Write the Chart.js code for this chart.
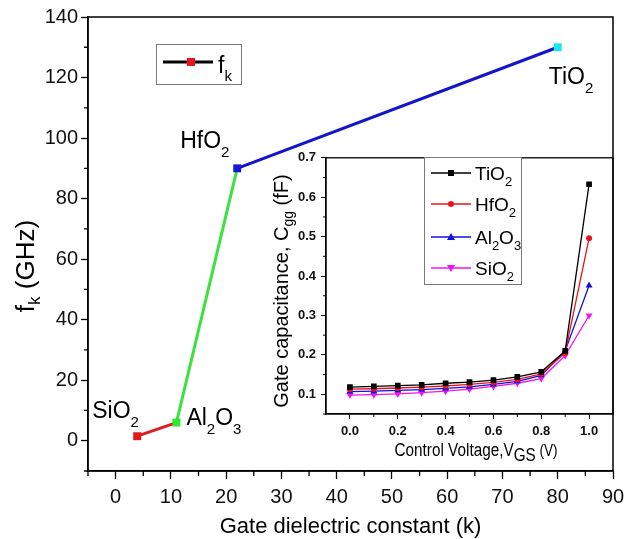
<!DOCTYPE html>
<html><head><meta charset="utf-8">
<script src="https://cdn.jsdelivr.net/npm/chart.js@4"></script>
<style>
html,body{margin:0;padding:0;background:#fff;overflow:hidden}
#wrap{position:relative;width:636px;height:539px}
#main{position:absolute;left:0;top:0}
#inset{position:absolute;left:260px;top:145px}
</style></head><body>
<div id="wrap">
<canvas id="main" width="636" height="539"></canvas>
<canvas id="inset" width="376" height="330"></canvas>
</div>
<script>
// ---------- main chart data ----------
const materials = ['SiO2', 'Al2O3', 'HfO2', 'TiO2'];
const dielectricK = [3.9, 11, 22, 80];
const cutoffFreq = [1.5, 6, 90, 130];
const pointColors = ['#e8151b', '#2fe82f', '#1616d8', '#19e6ef'];
const segmentColors = ['#e01e22', '#3ee03e', '#1414c8'];
const xTickValues = [0, 10, 20, 30, 40, 50, 60, 70, 80, 90];
const xMinorTicks = [-5, 5, 15, 25, 35, 45, 55, 65, 75, 85];
const yTickValues = [0, 20, 40, 60, 80, 100, 120, 140];
const yMinorTicks = [-10, 10, 30, 50, 70, 90, 110, 130];

// ---------- inset data ----------
const vgs = [0, 0.1, 0.2, 0.3, 0.4, 0.5, 0.6, 0.7, 0.8, 0.9, 1.0];
const cggTiO2  = [0.118, 0.120, 0.122, 0.124, 0.128, 0.131, 0.136, 0.144, 0.157, 0.210, 0.633];
const cggHfO2  = [0.113, 0.114, 0.116, 0.118, 0.121, 0.125, 0.130, 0.138, 0.152, 0.205, 0.496];
const cggAl2O3 = [0.107, 0.108, 0.110, 0.112, 0.115, 0.119, 0.125, 0.133, 0.148, 0.210, 0.376];
const cggSiO2  = [0.098, 0.099, 0.101, 0.104, 0.108, 0.113, 0.120, 0.128, 0.140, 0.198, 0.300];
const insetNames = ['TiO2', 'HfO2', 'Al2O3', 'SiO2'];
const insetColors = ['#000000', '#e8141c', '#1010e0', '#f014f0'];
const insetXTicks = [0, 0.2, 0.4, 0.6, 0.8, 1.0];
const insetXMinor = [0.1, 0.3, 0.5, 0.7, 0.9];
const insetYTicks = [0.1, 0.2, 0.3, 0.4, 0.5, 0.6, 0.7];
const insetYMinor = [0.05, 0.15, 0.25, 0.35, 0.45, 0.55, 0.65];

const FONT = '"Liberation Sans", Arial, Helvetica, sans-serif';

function formulaRuns(s) {
  const runs = [];
  for (const ch of s) {
    const sub = /[0-9]/.test(ch);
    if (runs.length && runs[runs.length - 1][1] === sub) runs[runs.length - 1][0] += ch;
    else runs.push([ch, sub]);
  }
  return runs;
}
function runsWidth(ctx, runs, size, subSize) {
  let w = 0;
  for (const [t, sub] of runs) {
    ctx.font = (sub ? subSize : size) + 'px ' + FONT;
    w += ctx.measureText(t).width;
  }
  return w;
}
function drawRuns(ctx, runs, x, y, size, subSize, subDy, align) {
  let cx = x;
  if (align === 'center') cx = x - runsWidth(ctx, runs, size, subSize) / 2;
  ctx.textAlign = 'left';
  ctx.textBaseline = 'alphabetic';
  for (const [t, sub] of runs) {
    ctx.font = (sub ? subSize : size) + 'px ' + FONT;
    ctx.fillText(t, cx, sub ? y + subDy : y);
    cx += ctx.measureText(t).width;
  }
}
function marker(ctx, style, x, y, r, color) {
  ctx.save();
  ctx.fillStyle = color;
  ctx.beginPath();
  if (style === 'rect') {
    ctx.rect(x - r, y - r, 2 * r, 2 * r);
  } else if (style === 'circle') {
    ctx.arc(x, y, r, 0, Math.PI * 2);
  } else if (style === 'triangle') {
    ctx.moveTo(x, y - r); ctx.lineTo(x + r, y + r * 0.75); ctx.lineTo(x - r, y + r * 0.75); ctx.closePath();
  } else if (style === 'down') {
    ctx.moveTo(x, y + r); ctx.lineTo(x + r, y - r * 0.75); ctx.lineTo(x - r, y - r * 0.75); ctx.closePath();
  }
  ctx.fill();
  ctx.restore();
}
function minorTicks(ctx, chart, xs, ys, lx, ly) {
  const a = chart.chartArea, sx = chart.scales.x, sy = chart.scales.y;
  ctx.beginPath();
  for (const v of xs) { const p = sx.getPixelForValue(v); ctx.moveTo(p, a.bottom); ctx.lineTo(p, a.bottom + lx); }
  for (const v of ys) { const p = sy.getPixelForValue(v); ctx.moveTo(a.left, p); ctx.lineTo(a.left - ly, p); }
  ctx.stroke();
}

// ---------- main chart ----------
const labelOffsets = [[-45, -18], [10, 2], [-57, -20], [-9, 37]];
const mainDecor = {
  id: 'mainDecor',
  afterDraw(chart) {
    const ctx = chart.ctx, a = chart.chartArea;
    ctx.save();
    ctx.strokeStyle = '#000'; ctx.lineWidth = 1.5;
    ctx.strokeRect(a.left, a.top, a.right - a.left, a.bottom - a.top);
    ctx.lineWidth = 1.3;
    minorTicks(ctx, chart, xMinorTicks, yMinorTicks, 5, 4);
    // legend
    ctx.strokeStyle = '#7a7a7a'; ctx.lineWidth = 1;
    ctx.strokeRect(156.5, 44.5, 85, 40);
    ctx.strokeStyle = '#000'; ctx.lineWidth = 3;
    ctx.beginPath(); ctx.moveTo(163, 62); ctx.lineTo(213, 62); ctx.stroke();
    marker(ctx, 'rect', 191, 62, 4, pointColors[0]);
    ctx.fillStyle = '#000';
    drawRuns(ctx, [['f', false], ['k', true]], 218, 73, 23, 15, 8, 'left');
    // point labels
    const sx = chart.scales.x, sy = chart.scales.y;
    materials.forEach((m, i) => {
      const px = sx.getPixelForValue(dielectricK[i]), py = sy.getPixelForValue(cutoffFreq[i]);
      drawRuns(ctx, formulaRuns(m), px + labelOffsets[i][0], py + labelOffsets[i][1], 23, 15, 9, 'left');
    });
    // axis titles
    drawRuns(ctx, [['Gate dielectric constant (k)', false]], (a.left + a.right) / 2, 533, 22, 15, 0, 'center');
    ctx.save();
    ctx.translate(34, 266);
    ctx.rotate(-Math.PI / 2);
    drawRuns(ctx, [['f', false], ['k', true], [' (GHz)', false]], 0, 0, 26, 17, 6, 'center');
    ctx.restore();
    ctx.restore();
  }
};

new Chart(document.getElementById('main'), {
  type: 'line',
  data: {
    datasets: [{
      data: dielectricK.map((k, i) => ({ x: k, y: cutoffFreq[i] })),
      borderWidth: 3,
      borderColor: segmentColors[0],
      segment: { borderColor: c => segmentColors[c.p0DataIndex] },
      pointStyle: 'rect',
      pointRadius: 5.6,
      pointBorderWidth: 0,
      pointBackgroundColor: pointColors,
      pointBorderColor: pointColors,
      tension: 0
    }]
  },
  options: {
    responsive: false, animation: false, events: [],
    layout: { padding: { left: 0, top: 17, right: 23, bottom: 0 } },
    plugins: { legend: { display: false }, tooltip: { enabled: false } },
    scales: {
      x: {
        type: 'linear', min: -5, max: 90,
        afterBuildTicks: s => { s.ticks = xTickValues.map(v => ({ value: v })); },
        afterFit: s => { s.height = 68; },
        grid: { drawOnChartArea: false, color: '#000', tickLength: 8, tickWidth: 1.3 },
        border: { color: '#000', width: 1.5 },
        ticks: { font: { family: FONT, size: 20 }, color: '#111', padding: 6, maxRotation: 0, autoSkip: false }
      },
      y: {
        type: 'linear', min: -10, max: 140,
        afterBuildTicks: s => { s.ticks = yTickValues.map(v => ({ value: v })); },
        afterFit: s => { s.width = 88; },
        grid: { drawOnChartArea: false, color: '#000', tickLength: 7, tickWidth: 1.3 },
        border: { color: '#000', width: 1.5 },
        ticks: { font: { family: FONT, size: 20 }, color: '#111', padding: 3, autoSkip: false }
      }
    }
  },
  plugins: [mainDecor]
});

// ---------- inset chart ----------
const insetSeries = [cggTiO2, cggHfO2, cggAl2O3, cggSiO2];
const insetStyles = ['rect', 'circle', 'triangle', 'down'];
const legendRowsY = [28, 59, 92, 123];

const insetDecor = {
  id: 'insetDecor',
  afterDraw(chart) {
    const ctx = chart.ctx, a = chart.chartArea;
    ctx.save();
    ctx.strokeStyle = '#000'; ctx.lineWidth = 1.3;
    ctx.strokeRect(a.left, a.top, a.right - a.left, a.bottom - a.top);
    ctx.lineWidth = 1;
    minorTicks(ctx, chart, insetXMinor, insetYMinor, 3, 3);
    // legend
    ctx.fillStyle = '#fff';
    ctx.fillRect(164, 12, 97, 127);
    ctx.strokeStyle = '#7a7a7a'; ctx.lineWidth = 1;
    ctx.strokeRect(164.5, 12.5, 97, 127);
    insetNames.forEach((n, i) => {
      const y = legendRowsY[i];
      ctx.strokeStyle = insetColors[i]; ctx.lineWidth = 1.3;
      ctx.beginPath(); ctx.moveTo(171, y); ctx.lineTo(211, y); ctx.stroke();
      marker(ctx, insetStyles[i], 191, y, i === 0 ? 3 : (i === 1 ? 3 : 4), insetColors[i]);
      ctx.fillStyle = '#000';
      drawRuns(ctx, formulaRuns(n), 215, y + 7, 19, 13, 6, 'left');
    });
    // axis titles
    ctx.fillStyle = '#000';
    ctx.save();
    ctx.translate(217, 311);
    ctx.scale(0.85, 1);
    drawRuns(ctx, [['Control Voltage,V', false]], -97, 0, 18, 18, 0, 'left');
    ctx.font = '18px ' + FONT;
    const w1 = ctx.measureText('Control Voltage,V').width;
    drawRuns(ctx, [['GS', false]], -97 + w1, 5, 18, 18, 0, 'left');
    const w2 = ctx.measureText('GS').width;
    drawRuns(ctx, [[' (V)', false]], -97 + w1 + w2, 0, 16, 16, 0, 'left');
    ctx.restore();
    ctx.save();
    ctx.translate(28, 146);
    ctx.rotate(-Math.PI / 2);
    drawRuns(ctx, [['Gate capacitance, C', false], ['gg', true], [' (fF)', false]], 0, 0, 20, 14, 5, 'center');
    ctx.restore();
    ctx.restore();
  }
};

new Chart(document.getElementById('inset'), {
  type: 'line',
  data: {
    datasets: insetSeries.map((vals, i) => ({
      label: insetNames[i],
      data: vgs.map((v, j) => ({ x: v, y: vals[j] })),
      borderColor: insetColors[i],
      backgroundColor: insetColors[i],
      pointBackgroundColor: insetColors[i],
      pointBorderColor: insetColors[i],
      borderWidth: 1.3,
      pointStyle: i === 0 ? 'rect' : (i === 1 ? 'circle' : 'triangle'),
      pointRotation: i === 3 ? 180 : 0,
      pointRadius: i === 0 ? 4 : (i === 1 ? 3 : 4),
      pointBorderWidth: 0,
      tension: 0
    }))
  },
  options: {
    responsive: false, animation: false, events: [],
    layout: { padding: { left: 0, top: 10, right: 23, bottom: 0 } },
    plugins: { legend: { display: false }, tooltip: { enabled: false } },
    scales: {
      x: {
        type: 'linear', min: -0.1, max: 1.1,
        afterBuildTicks: s => { s.ticks = insetXTicks.map(v => ({ value: v })); },
        afterFit: s => { s.height = 61; },
        grid: { drawOnChartArea: false, color: '#000', tickLength: 5, tickWidth: 1 },
        border: { color: '#000', width: 1.3 },
        ticks: { font: { family: FONT, size: 13, weight: 'bold' }, color: '#111', padding: 5, maxRotation: 0, autoSkip: false,
                 callback: v => Number(v).toFixed(1) }
      },
      y: {
        type: 'linear', min: 0.05, max: 0.7,
        afterBuildTicks: s => { s.ticks = insetYTicks.map(v => ({ value: v })); },
        afterFit: s => { s.width = 66; },
        grid: { drawOnChartArea: false, color: '#000', tickLength: 5, tickWidth: 1 },
        border: { color: '#000', width: 1.3 },
        ticks: { font: { family: FONT, size: 13, weight: 'bold' }, color: '#111', padding: 5, autoSkip: false,
                 callback: v => Number(v).toFixed(1) }
      }
    }
  },
  plugins: [insetDecor]
});
</script>
</body></html>
